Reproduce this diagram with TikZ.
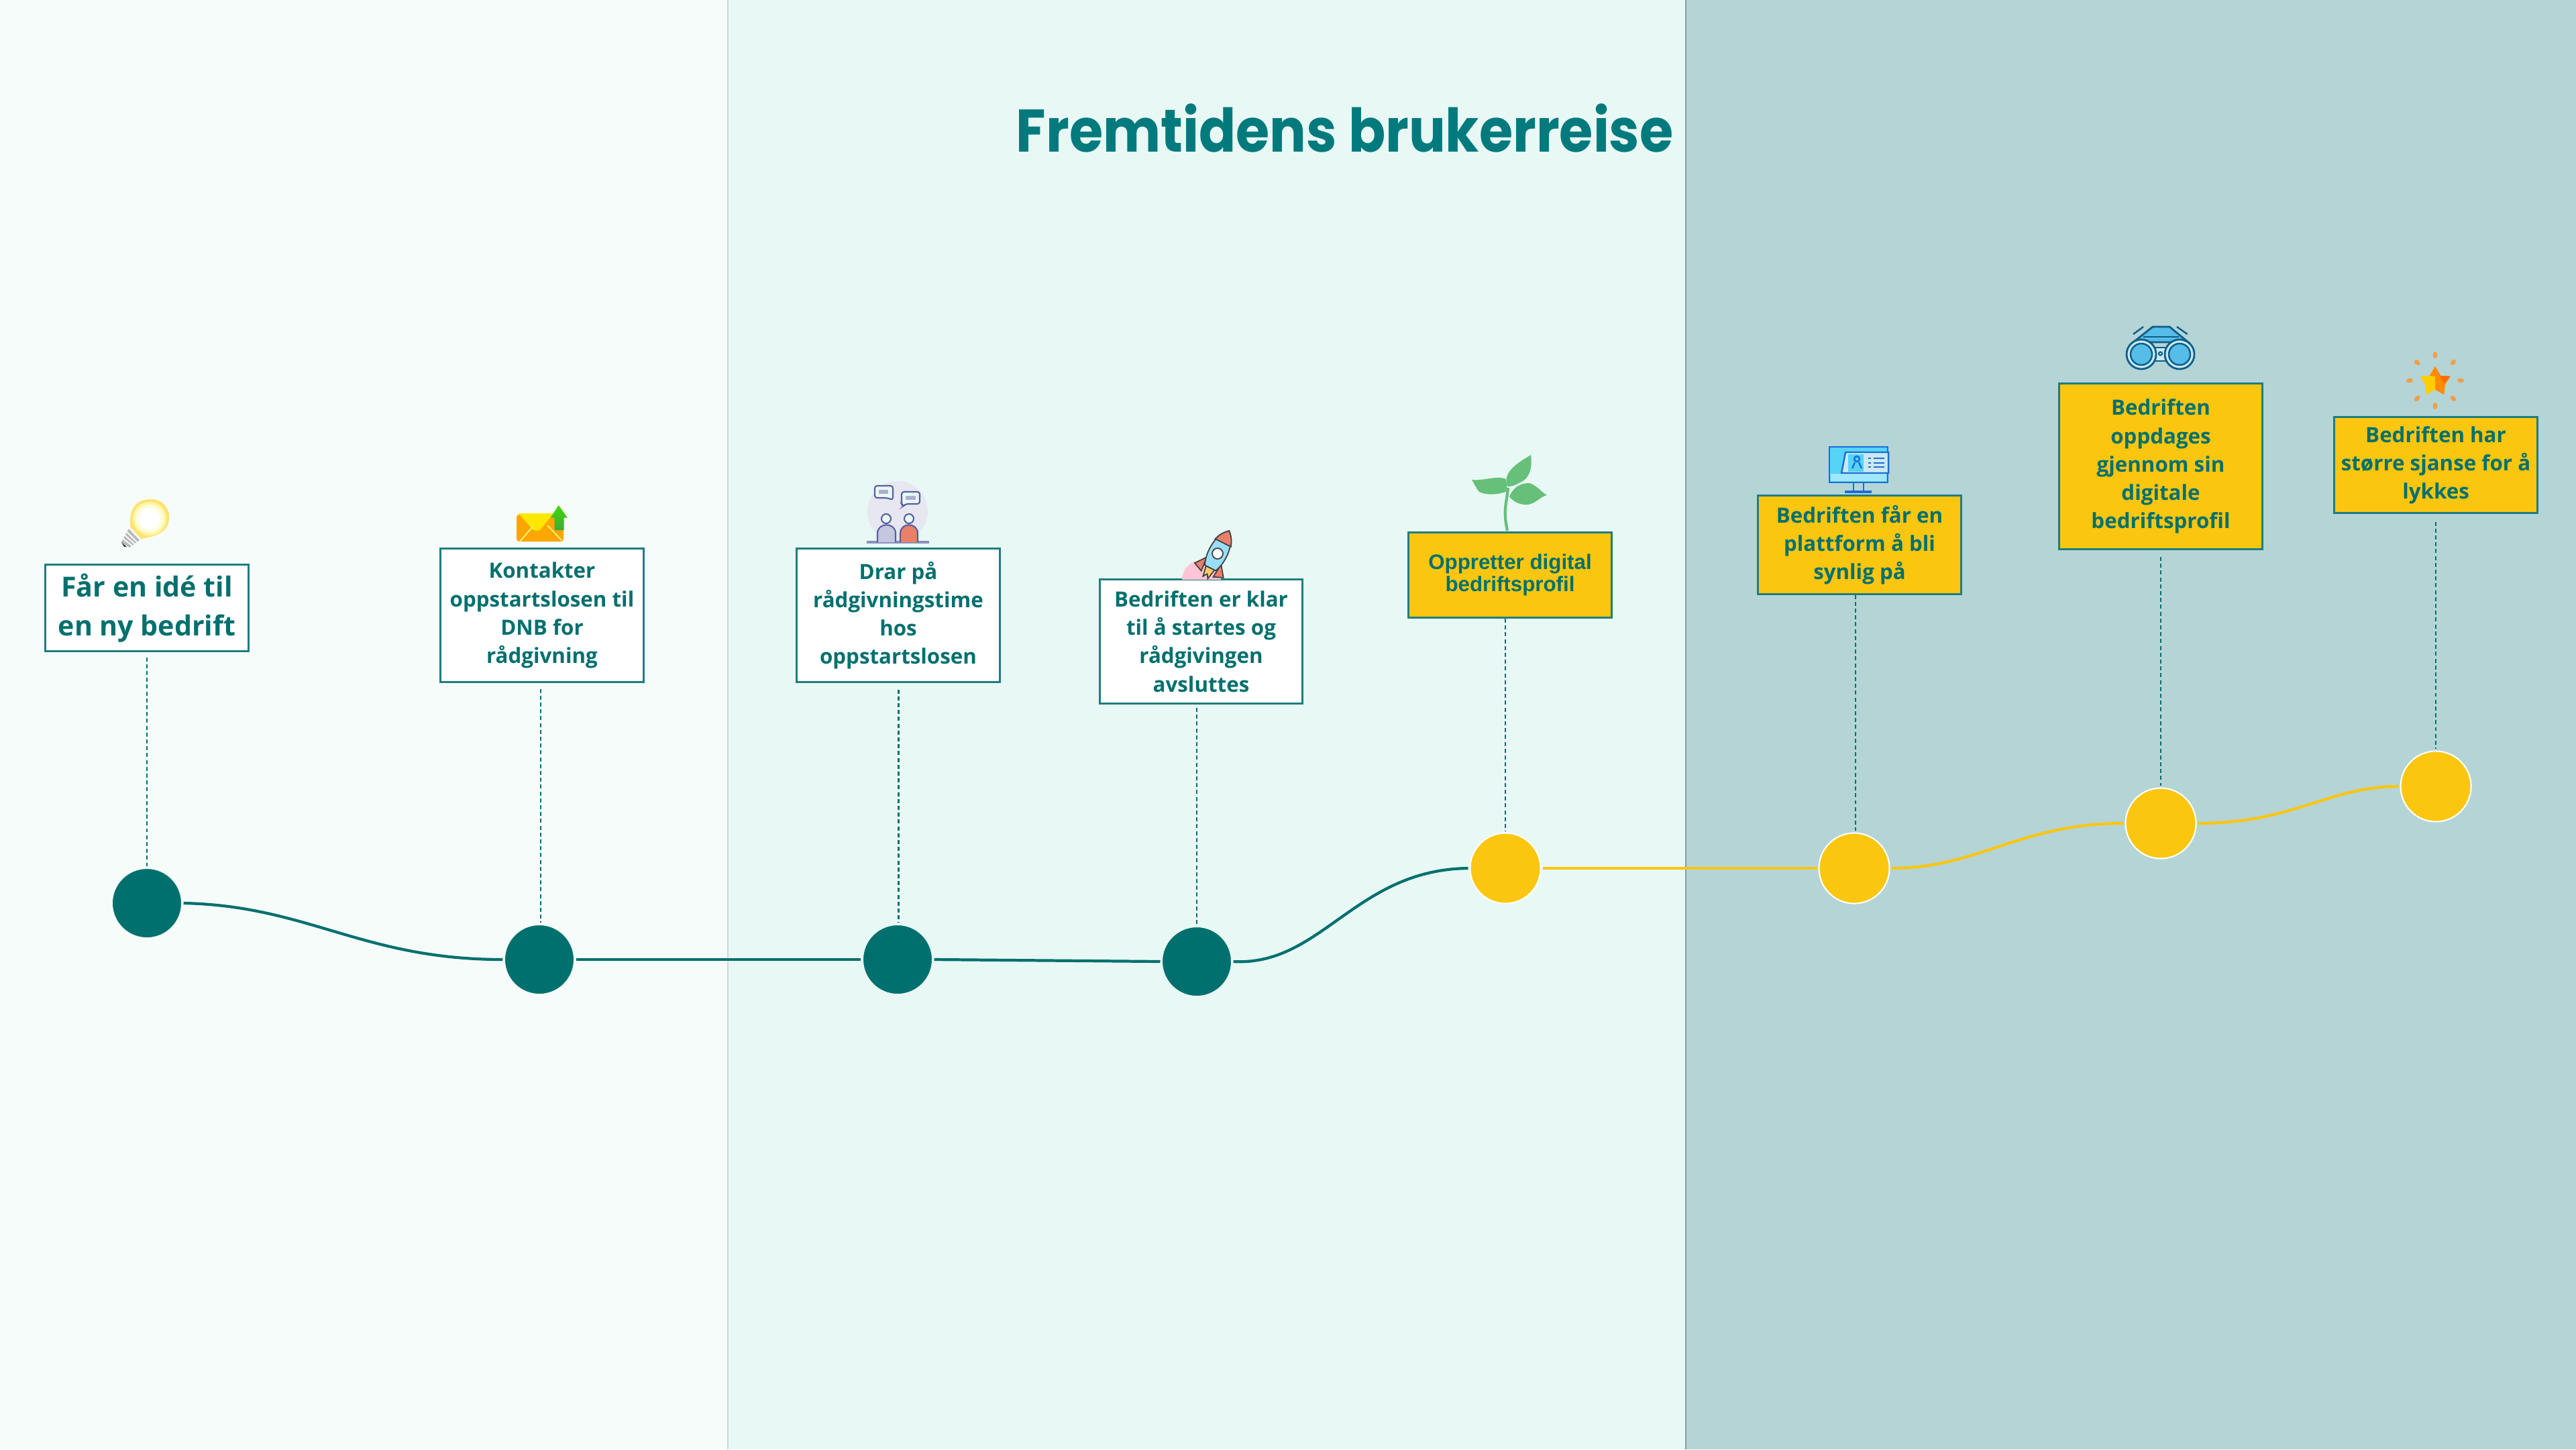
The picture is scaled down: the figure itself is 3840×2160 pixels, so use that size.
\documentclass[tikz,border=0pt]{standalone}
\usepackage{fontspec}
\setmainfont{Open Sans}
\newfontfamily\titlefont[FakeStretch=0.907]{Poppins}
\newfontfamily\arialfont{Liberation Sans}
\usetikzlibrary{arrows.meta,calc}
\definecolor{panelA}{HTML}{F5FCFA}
\definecolor{panelB}{HTML}{E8F8F5}
\definecolor{panelC}{HTML}{B5D4D6}
\definecolor{lineA}{HTML}{C6DCD9}
\definecolor{lineB}{HTML}{7FA3A6}
\definecolor{dnbteal}{HTML}{00706E}
\definecolor{boxedge}{HTML}{1F7D7F}
\definecolor{titleteal}{HTML}{007A7D}
\definecolor{dnbyellow}{HTML}{FBC60F}
\definecolor{leaf}{HTML}{66C07A}
\definecolor{ink}{HTML}{5A5FA0}
\definecolor{mon}{HTML}{1B6FD4}
\definecolor{bino}{HTML}{0D5F8A}
\definecolor{lens}{HTML}{55BDE8}
\definecolor{ring}{HTML}{CBE8F0}
\definecolor{screen}{HTML}{55D4F8}
\definecolor{flame}{HTML}{E8806A}
\definecolor{starray}{HTML}{EFA04A}
\tikzset{
stepbox/.style={draw=boxedge,line width=0.85pt,minimum width=3.02cm,align=center,text=dnbteal,inner sep=0pt,font=\bfseries\fontsize{8.9}{12}\selectfont},
whitebox/.style={stepbox,fill=white},
yellowbox/.style={stepbox,fill=dnbyellow},
tealdot/.style={circle,fill=dnbteal,draw=panelB,line width=0.3pt,minimum size=1.03cm,inner sep=0pt,outer sep=0.03cm},
yellowdot/.style={circle,fill=dnbyellow,draw=white,line width=0.6pt,minimum size=1.05cm,inner sep=0pt,outer sep=0.03cm},
guide/.style={draw=dnbteal,line width=0.75pt,dash pattern=on 1.7pt off 1.2pt},
tealpath/.style={draw=dnbteal,line width=1.2pt},
yellowpath/.style={draw=dnbyellow,line width=1.2pt}
}
\begin{document}
\begin{tikzpicture}[x=0.01cm,y=-0.01cm]
\useasboundingbox(0,0)rectangle(3840,2160);
\fill[panelA](0,0)rectangle(1085,2160);
\fill[panelB](1085,0)rectangle(2513,2160);
\fill[panelC](2513,0)rectangle(3840,2160);
\draw[lineA,line width=0.6pt](1085,0)--(1085,2160);
\draw[lineB,line width=0.6pt](2513,0)--(2513,2160);
\node[anchor=base west,inner sep=0pt,text=titleteal,font=\titlefont\bfseries\fontsize{25.5}{30}\selectfont](title)at(1514,226){Fremtidens brukerreise};

\node[whitebox,minimum height=1.28cm,font=\bfseries\fontsize{11.7}{16.4}\selectfont](box1)at(219,906){Får en idé til\\en ny bedrift};
\node[whitebox,minimum height=1.98cm](box2)at(808,917){Kontakter\\oppstartslosen til\\DNB for\\rådgivning};
\node[whitebox,minimum height=1.98cm](box3)at(1339,917){Drar på\\rådgivningstime\\hos\\oppstartslosen};
\node[whitebox,minimum height=1.85cm](box4)at(1790.5,956){Bedriften er klar\\til å startes og\\rådgivingen\\avsluttes};
\node[yellowbox,minimum height=1.27cm,font=\arialfont\bfseries\fontsize{8.9}{9.4}\selectfont](box5)at(2251,857){Oppretter digital\\bedriftsprofil};
\node[yellowbox,minimum height=1.46cm](box6)at(2772,812){Bedriften får en\\plattform å bli\\synlig på};
\node[yellowbox,minimum height=2.47cm](box7)at(3221,695){Bedriften\\oppdages\\gjennom sin\\digitale\\bedriftsprofil};
\node[yellowbox,minimum height=1.42cm](box8)at(3631,693){Bedriften har\\større sjanse for å\\lykkes};

\node[tealdot](dot1)at(219,1346){};
\node[tealdot](dot2)at(804,1430){};
\node[tealdot](dot3)at(1338,1430){};
\node[tealdot](dot4)at(1784,1433){};
\node[yellowdot](dot5)at(2244,1294){};
\node[yellowdot](dot6)at(2764,1294){};
\node[yellowdot](dot7)at(3221,1227){};
\node[yellowdot](dot8)at(3631,1172){};

\draw[guide,shorten <=0.08cm](box1.south)--(dot1.north);
\draw[guide,shorten <=0.09cm]($(box2.south-|dot2.north)+(2,0)$)--($(dot2.north)+(2,0)$);
\draw[guide,shorten <=0.1cm]($(box3.south-|dot3.north)+(1.5,0)$)--($(dot3.north)+(1.5,0)$);
\draw[guide,shorten <=0.05cm](box4.south-|dot4.north)--(dot4.north);
\draw[guide](box5.south-|dot5.north)--(dot5.north);
\draw[guide]($(box6.south-|dot6.north)+(2,0)$)--($(dot6.north)+(2,0)$);
\draw[guide,shorten <=0.1cm](box7.south-|dot7.north)--(dot7.north);
\draw[guide,shorten <=0.12cm](box8.south-|dot8.north)--(dot8.north);

\draw[tealpath](dot1.east)..controls(460,1350)and(540,1430)..(dot2.west);
\draw[tealpath](dot2.east)--(dot3.west);
\draw[tealpath](dot3.east)--(dot4.west);
\draw[tealpath](dot4.east)..controls(1970,1440)and(2020,1296)..(dot5.west);
\draw[yellowpath](dot5.east)--(dot6.west);
\draw[yellowpath](dot6.east)..controls(2950,1294)and(3010,1227)..(dot7.west);
\draw[yellowpath](dot7.east)..controls(3420,1227)and(3470,1172)..(dot8.west);

%lamp
\fill[gray!55](192,788)--(208,805)--(193,816)--(181,808)--cycle;
\foreach \s in {0.25,0.5,0.75}
\draw[white,line width=0.5pt]($(192,788)!\s!(181,808)$)--($(208,805)!\s!(193,816)$);
\fill[black!80](181,808)--(189,815)--(185,815)--cycle;
\fill[orange!40!yellow!55!white](194,785)..controls(192,755)and(205,744)..(225,744)..controls(245,744)and(254,760)..(252,775)..controls(250,793)and(232,800)..(210,803)--cycle;
\fill[orange!20!yellow!35!white](223,773)circle(25);
\fill[orange!10!yellow!15!white](223,773)circle(21);
\fill[white](223,773)circle(16);

%envelope
\fill[orange!70!yellow,rounded corners=1pt](770,767)--(840,767)--(840,807)--(770,807)--cycle;
\fill[yellow!90!orange](773,765)--(825,765)--(805,790)--(800,791)--(795,790)--cycle;
\draw[yellow!50,line width=0.5pt](775,807)--(794,785)(837,805)--(816,783);
\shade[top color=green!70!yellow!85!black,bottom color=green!55!black!75](832.7,753)--(846,771.7)--(840.7,771.7)--(840.7,790)--(826.7,790)--(826.7,771.7)--(820.7,771.7)--cycle;

%people
\fill[ink!15](1338,762)circle(45);
\draw[ink!70,line width=1pt](1292,808)--(1385,808);
\draw[ink,line width=0.6pt,fill=ink!35](1308,808)--(1308,795)..controls(1308,778)and(1335,778)..(1335,795)--(1335,808);
\draw[ink,line width=0.6pt,fill=flame](1342,808)--(1342,795)..controls(1342,778)and(1368,778)..(1368,795)--(1368,808);
\draw[ink,line width=0.6pt,fill=panelB](1321,773)circle(7);
\draw[ink,line width=0.6pt,fill=panelB](1355,773)circle(7);
\draw[ink,line width=0.6pt,fill=panelB,rounded corners=1pt](1304,724)--(1331,724)--(1331,745)--(1322,742)--(1304,742)--cycle;
\draw[ink,line width=0.6pt,fill=panelB,rounded corners=1pt](1344,733)--(1371,733)--(1371,751)--(1350,751)--(1346,755)--(1344,751)--cycle;
\fill[ink!50](1310,730)rectangle(1324,736);
\fill[ink!50](1350,739)rectangle(1365,745);

%rocket
\begin{scope}
\clip(1700,780)rectangle(1900,863);
\fill[pink!90!magenta!70](1791,864)circle(29);
\end{scope}
\begin{scope}[shift={(1815,825)},rotate=-27]
\draw[black!75,line width=0.5pt,fill=flame](-12,12)--(-24,28)--(-10,34)--cycle;
\draw[black!75,line width=0.5pt,fill=flame](12,12)--(24,28)--(10,34)--cycle;
\draw[black!75,line width=0.5pt,fill=yellow!40!orange!60](-7,24)--(-4,40)--(0,34)--(4,40)--(7,24)--cycle;
\draw[black!75,line width=0.5pt,fill=cyan!40](0,-38)..controls(18,-22)and(16,10)..(9,24)--(-9,24)..controls(-16,10)and(-18,-22)..(0,-38)--cycle;
\draw[black!75,line width=0.5pt,fill=flame](0,-38)..controls(8,-31)and(11,-25)..(13,-18)--(-13,-18)..controls(-11,-25)and(-8,-31)..(0,-38)--cycle;
\draw[black!75,line width=0.5pt,fill=white](0,0)circle(8);
\end{scope}

%plant
\draw[leaf,line width=1.2pt](2247,791)..controls(2240,760)and(2246,750)..(2248,727);
\fill[leaf](2247,725)..controls(2240,705)and(2258,692)..(2282,678)..controls(2284,695)and(2282,712)..(2266,719)..controls(2258,724)and(2252,725)..(2247,725)--cycle;
\fill[leaf](2194,715)..controls(2212,717)and(2232,708)..(2245,714)--(2247,732)..controls(2232,738)and(2215,738)..(2205,733)..controls(2200,727)and(2197,720)..(2194,715)--cycle;
\fill[leaf](2250,740)..controls(2256,726)and(2266,720)..(2280,720)..controls(2292,724)and(2298,734)..(2306,738)..controls(2296,740)and(2290,750)..(2278,752)..controls(2266,753)and(2256,748)..(2250,740)--cycle;

%monitor
\draw[mon,line width=0.7pt,fill=screen](2727,666)rectangle(2814,719);
\fill[screen!55!white](2729,706)rectangle(2812,717);
\draw[mon,line width=0.7pt](2763,719)--(2763,732)(2778,719)--(2778,732);
\draw[mon,line width=1pt](2750,733)--(2790,733);
\draw[mon,line width=0.7pt,fill=ring](2751,674)--(2815,674)--(2815,705)--(2745,705)--cycle;
\fill[screen](2755,677)rectangle(2778,703);
\draw[mon,line width=0.7pt](2768,684)circle(4)(2761,698)--(2765,689)(2775,698)--(2771,689);
\foreach \y in {683,690,696}
\draw[mon,line width=0.7pt](2785,\y)--(2789,\y)(2793,\y)--(2809,\y);

%binoculars
\draw[bino,line width=0.8pt,fill=lens](3209,487)--(3234,487)--(3262,510)--(3180,510)--cycle;
\draw[bino,line width=0.7pt](3195,502)--(3248,502);
\draw[bino,line width=0.8pt,fill=ring](3205,518)rectangle(3236,538);
\draw[bino,line width=0.6pt](3220.5,527)circle(2.5);
\foreach \cx in {3192,3249}{
\draw[bino,line width=0.8pt,fill=ring](\cx,528)circle(22);
\draw[bino,line width=0.7pt,fill=lens](\cx,528)circle(16);
}
\draw[bino,line width=0.7pt](3180,498)--(3195,487)(3245,487)--(3260.6,498);

%star
\foreach \a in {0,45,...,315}
\fill[starray,rotate around={\a:(3630,567)}](3668,567)ellipse(5 and 3.5);
\fill[orange!30!yellow!95!red](3630,546)--(3621.6,560)--(3607.7,560.7)--(3615,573)--(3616.7,588.3)--(3630,580.7)--cycle;
\fill[orange!90!yellow](3630,546)--(3638,560)--(3652.7,560.7)--(3645,573)--(3643.3,588.3)--(3630,580.7)--cycle;
\fill[orange!85!red](3630,546)--(3638,560)--(3652.7,560.7)--(3643,572)--cycle;
\fill[orange!90!yellow](3630,546)--(3621.6,560)--(3630,561)--cycle;
\end{tikzpicture}
\end{document}
